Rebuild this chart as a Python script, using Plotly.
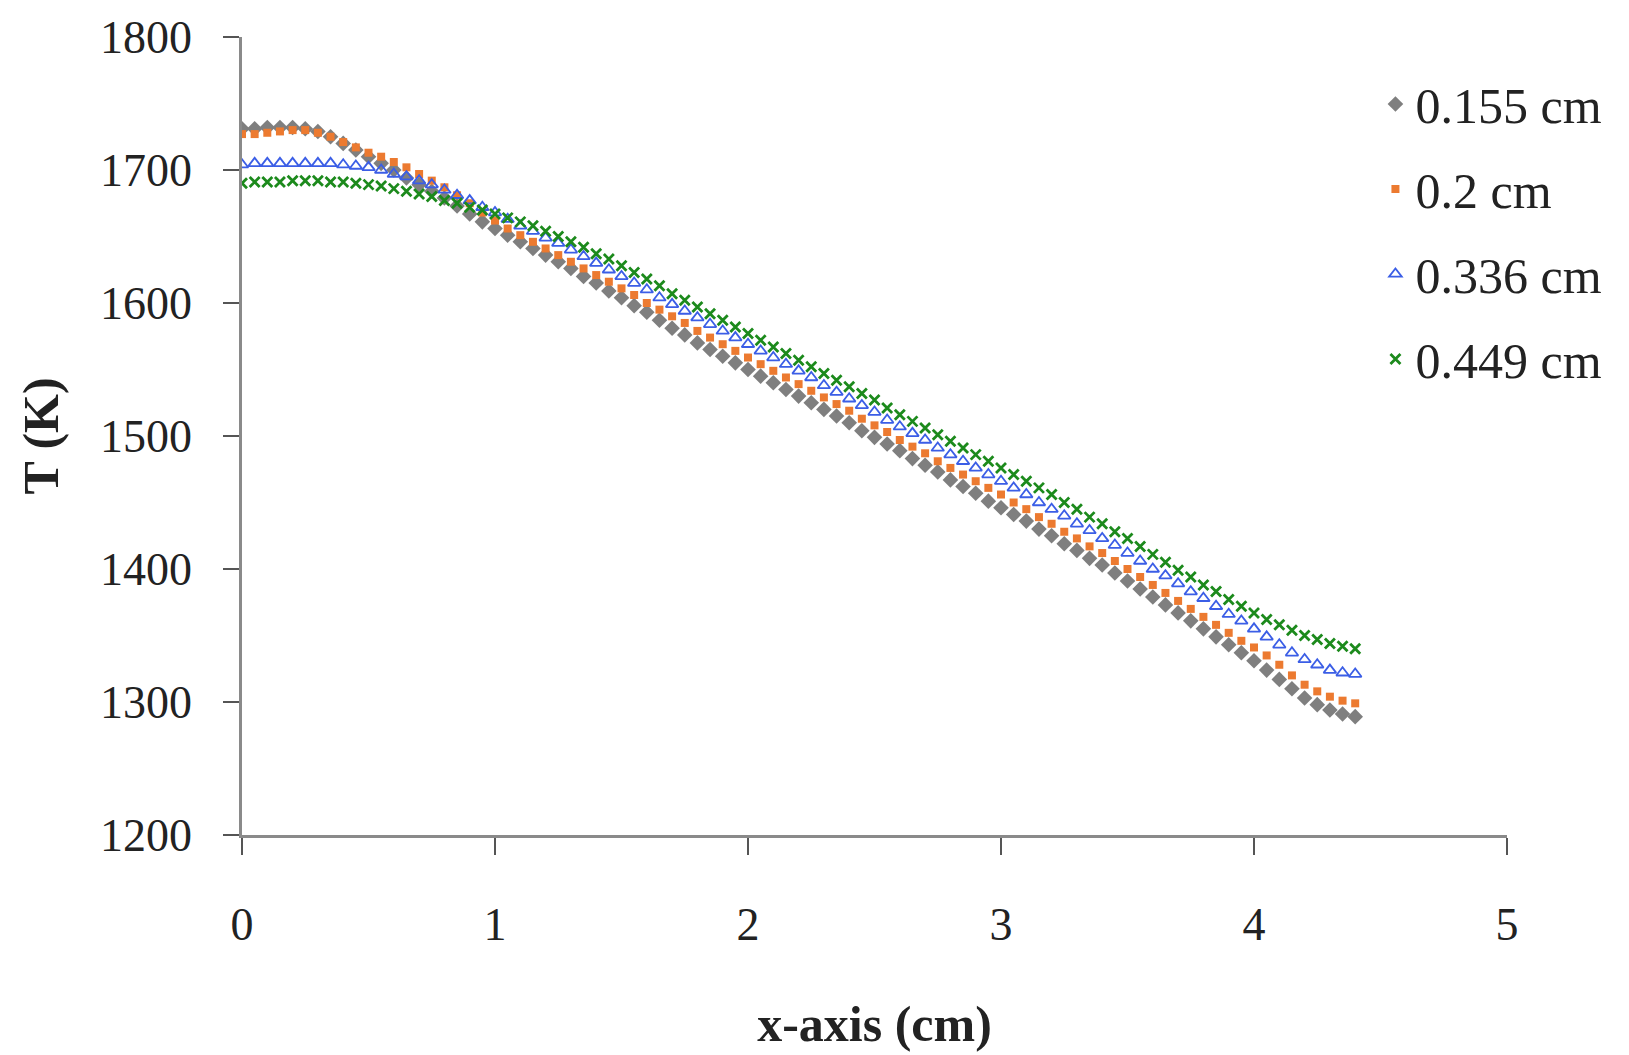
import plotly.graph_objects as go

x_cm = [0.00, 0.05, 0.10, 0.15, 0.20, 0.25, 0.30, 0.35, 0.40, 0.45,
        0.50, 0.55, 0.60, 0.65, 0.70, 0.75, 0.80, 0.85, 0.90, 0.95,
        1.00, 1.05, 1.10, 1.15, 1.20, 1.25, 1.30, 1.35, 1.40, 1.45,
        1.50, 1.55, 1.60, 1.65, 1.70, 1.75, 1.80, 1.85, 1.90, 1.95,
        2.00, 2.05, 2.10, 2.15, 2.20, 2.25, 2.30, 2.35, 2.40, 2.45,
        2.50, 2.55, 2.60, 2.65, 2.70, 2.75, 2.80, 2.85, 2.90, 2.95,
        3.00, 3.05, 3.10, 3.15, 3.20, 3.25, 3.30, 3.35, 3.40, 3.45,
        3.50, 3.55, 3.60, 3.65, 3.70, 3.75, 3.80, 3.85, 3.90, 3.95,
        4.00, 4.05, 4.10, 4.15, 4.20, 4.25, 4.30, 4.35, 4.40]

T_0155 = [1731, 1731, 1732, 1732, 1732, 1731, 1729, 1725, 1720, 1715,
          1710, 1705, 1700, 1694, 1689, 1684, 1679, 1673, 1667, 1661,
          1656, 1651, 1646, 1641, 1636, 1631, 1626, 1620, 1615, 1609,
          1604, 1598, 1593, 1587, 1581, 1576, 1570, 1565, 1560, 1555,
          1550, 1545, 1540, 1535, 1530, 1525, 1520, 1515, 1510, 1504,
          1499, 1494, 1489, 1483, 1478, 1473, 1467, 1462, 1457, 1451,
          1446, 1441, 1436, 1430, 1425, 1419, 1414, 1408, 1403, 1397,
          1391, 1385, 1379, 1373, 1367, 1361, 1355, 1349, 1343, 1337,
          1331, 1324, 1317, 1310, 1303, 1298, 1294, 1291, 1289]

T_02 = [1727, 1727, 1728, 1729, 1730, 1730, 1728, 1725, 1721, 1717,
        1713, 1710, 1706, 1702, 1697, 1692, 1687, 1681, 1675, 1668,
        1662, 1656, 1651, 1646, 1641, 1636, 1631, 1626, 1621, 1616,
        1611, 1606, 1600, 1595, 1590, 1585, 1579, 1574, 1569, 1564,
        1559, 1554, 1549, 1544, 1539, 1534, 1529, 1524, 1519, 1513,
        1508, 1503, 1497, 1492, 1487, 1481, 1476, 1471, 1466, 1461,
        1456, 1450, 1445, 1439, 1434, 1428, 1423, 1417, 1412, 1406,
        1400, 1394, 1388, 1382, 1376, 1370, 1364, 1358, 1352, 1346,
        1341, 1335, 1328, 1320, 1313, 1308, 1304, 1301, 1299]

T_0336 = [1704, 1705, 1705, 1705, 1705, 1705, 1705, 1705, 1704, 1703,
          1702, 1700, 1697, 1695, 1692, 1689, 1685, 1681, 1677, 1672,
          1668, 1663, 1658, 1654, 1649, 1645, 1640, 1635, 1630, 1625,
          1620, 1615, 1610, 1604, 1599, 1594, 1589, 1584, 1579, 1574,
          1569, 1564, 1559, 1554, 1549, 1544, 1538, 1533, 1528, 1523,
          1518, 1512, 1507, 1502, 1497, 1491, 1486, 1481, 1476, 1471,
          1466, 1461, 1456, 1450, 1445, 1440, 1434, 1429, 1423, 1418,
          1412, 1406, 1400, 1395, 1389, 1383, 1378, 1372, 1366, 1361,
          1355, 1349, 1343, 1337, 1332, 1328, 1324, 1322, 1321]

T_0449 = [1690, 1691, 1691, 1691, 1692, 1692, 1692, 1691, 1691, 1690,
          1689, 1688, 1686, 1684, 1682, 1680, 1677, 1675, 1672, 1670,
          1667, 1664, 1661, 1658, 1654, 1650, 1646, 1642, 1637, 1633,
          1628, 1623, 1618, 1613, 1607, 1602, 1597, 1592, 1587, 1582,
          1577, 1572, 1567, 1562, 1557, 1552, 1547, 1542, 1537, 1532,
          1527, 1521, 1516, 1511, 1506, 1501, 1496, 1491, 1486, 1481,
          1476, 1471, 1466, 1461, 1456, 1450, 1445, 1439, 1434, 1428,
          1423, 1417, 1411, 1405, 1399, 1394, 1388, 1383, 1377, 1372,
          1367, 1362, 1358, 1354, 1350, 1347, 1344, 1342, 1340]

series_names = ["0.155 cm", "0.2 cm", "0.336 cm", "0.449 cm"]
x_ticks = [0, 1, 2, 3, 4, 5]
y_ticks = [1200, 1300, 1400, 1500, 1600, 1700, 1800]

FONT = "Liberation Serif, Times New Roman, serif"

styles = [
    dict(symbol="diamond", size=12, color="#7f7f7f", line=dict(width=0)),
    dict(symbol="square", size=8, color="#ec7a30", line=dict(width=0)),
    dict(symbol="triangle-up-open", size=11, color="#3b5ee6", line=dict(width=1.8, color="#3b5ee6")),
    dict(symbol="x-thin", size=10, color="#1c8a1c", line=dict(width=2.8, color="#1c8a1c")),
]

fig = go.Figure()
for i, (name, ys) in enumerate(zip(series_names, [T_0155, T_02, T_0336, T_0449])):
    fig.add_trace(go.Scatter(
        x=x_cm, y=ys, mode="markers", name=name,
        marker=styles[i], legendgroup=name,
    ))

fig.update_layout(
    width=1629, height=1055,
    margin=dict(l=242, r=122, t=36, b=218),
    paper_bgcolor="white", plot_bgcolor="white",
    font=dict(family=FONT, color="#222222"),
    showlegend=True,
    legend=dict(
        x=0.896, xanchor="left", y=0.965, yanchor="top",
        font=dict(family=FONT, size=50, color="#222222"),
        bgcolor="rgba(0,0,0,0)", tracegroupgap=17,
        itemsizing="trace",
    ),
    xaxis=dict(
        range=[0, 5], tickvals=x_ticks, ticktext=[str(v) for v in x_ticks],
        showgrid=False, zeroline=False,
        showline=True, linecolor="#8a8a8a", linewidth=2.5,
        ticks="outside", ticklen=17, tickwidth=1.5, tickcolor="#555555",
        tickfont=dict(family=FONT, size=46, color="#222222"),
        ticklabelstandoff=30,
        title=dict(text="<b>x-axis (cm)</b>", font=dict(family=FONT, size=50, color="#222222"), standoff=58),
    ),
    yaxis=dict(
        range=[1200, 1800], tickvals=y_ticks, ticktext=[str(v) for v in y_ticks],
        showgrid=False, zeroline=False,
        showline=True, linecolor="#8a8a8a", linewidth=2.5,
        ticks="outside", ticklen=16, tickwidth=1.5, tickcolor="#555555",
        tickfont=dict(family=FONT, size=46, color="#222222"),
        ticklabelstandoff=22,
        title=dict(text="<b>T (K)</b>", font=dict(family=FONT, size=50, color="#222222"), standoff=26),
    ),
)

fig.write_html("out.html", config={"displayModeBar": False},
               post_script="document.body.style.margin='0px';")
